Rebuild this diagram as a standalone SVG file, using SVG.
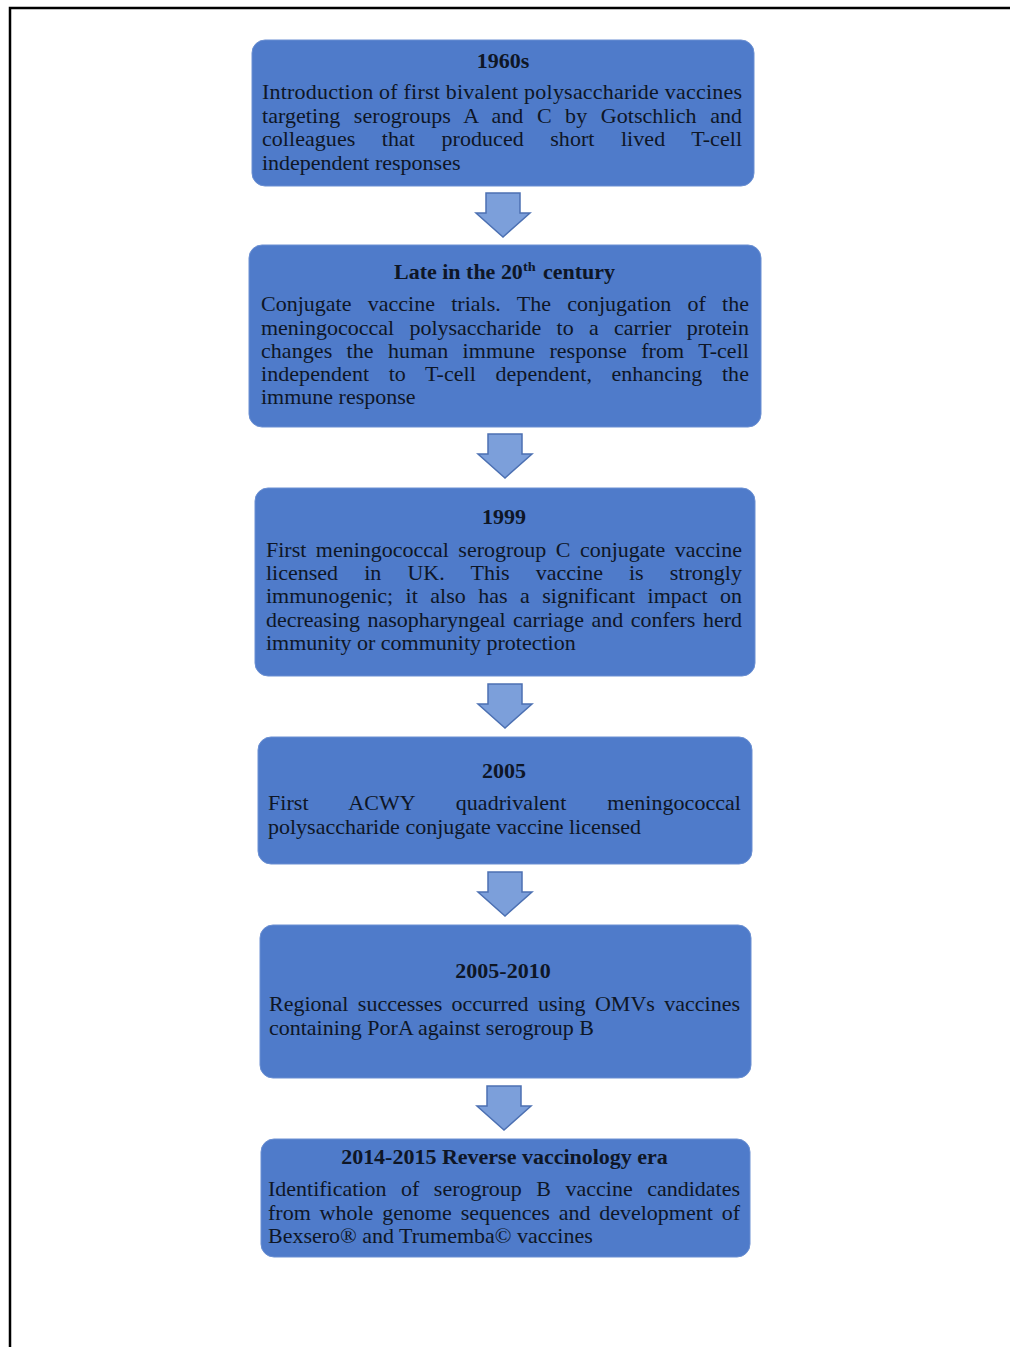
<svg xmlns="http://www.w3.org/2000/svg" xmlns:xlink="http://www.w3.org/1999/xlink" width="1010" height="1347" viewBox="0 0 1010 1347">
<style>
.box{fill:#4F7BCA;stroke:#6A8FD2;stroke-width:1}
.arrow{fill:#7C9FDA;stroke:#4C70B2;stroke-width:1.5;stroke-linejoin:miter}
.t{font-family:"Liberation Serif","Times New Roman",serif;font-size:20px;fill:#0E1626}
.h{font-family:"Liberation Serif","Times New Roman",serif;font-size:20px;font-weight:bold;fill:#0E1626}
.c{text-anchor:middle}
.sup{font-family:"Liberation Serif","Times New Roman",serif;font-size:13px;font-weight:bold;fill:#0E1626}
</style>
<defs>
<path id="arr" d="M-17,0 H17 V20 H27 L0,44 L-27,20 H-17 Z"/>
</defs>
<rect width="1010" height="1347" fill="#ffffff"/>
<path d="M10,1347 V8 H1010" fill="none" stroke="#000" stroke-width="2.5"/>

<g id="connectors">
<use xlink:href="#arr" href="#arr" class="arrow" transform="translate(503,193)"/>
<use xlink:href="#arr" href="#arr" class="arrow" transform="translate(505,434)"/>
<use xlink:href="#arr" href="#arr" class="arrow" transform="translate(505,684)"/>
<use xlink:href="#arr" href="#arr" class="arrow" transform="translate(505,872)"/>
<use xlink:href="#arr" href="#arr" class="arrow" transform="translate(504,1086)"/>
</g>

<g id="node-1960s">
<rect class="box" x="252" y="40" width="502" height="146" rx="13"/>
<g transform="scale(1.1,1)">
<text class="h c" x="457.27" y="68">1960s</text>
<text class="t" x="238.18" y="99" textLength="436.4" lengthAdjust="spacing">Introduction of first bivalent polysaccharide vaccines</text>
<text class="t" x="238.18" y="123" word-spacing="7.2" textLength="436.4" lengthAdjust="spacing">targeting serogroups A and C by Gotschlich and</text>
<text class="t" x="238.18" y="146" word-spacing="19" textLength="436.4" lengthAdjust="spacing">colleagues that produced short lived T-cell</text>
<text class="t" x="238.18" y="170">independent responses</text>
</g>
</g>

<g id="node-late20th">
<rect class="box" x="249" y="245" width="512" height="182" rx="13"/>
<g transform="scale(1.1,1)">
<text class="h" x="358.18" y="279">Late in the 20</text>
<text class="sup" x="475.45" y="271">th</text>
<text class="h" x="493.64" y="279">century</text>
<text class="t" x="237.27" y="311" word-spacing="9.8" textLength="443.6" lengthAdjust="spacing">Conjugate vaccine trials. The conjugation of the</text>
<text class="t" x="237.27" y="335" word-spacing="8.9" textLength="443.6" lengthAdjust="spacing">meningococcal polysaccharide to a carrier protein</text>
<text class="t" x="237.27" y="358" word-spacing="8" textLength="443.6" lengthAdjust="spacing">changes the human immune response from T-cell</text>
<text class="t" x="237.27" y="381" word-spacing="12.7" textLength="443.6" lengthAdjust="spacing">independent to T-cell dependent, enhancing the</text>
<text class="t" x="237.27" y="404">immune response</text>
</g>
</g>

<g id="node-1999">
<rect class="box" x="255" y="488" width="500" height="188" rx="13"/>
<g transform="scale(1.1,1)">
<text class="h c" x="458.18" y="524">1999</text>
<text class="t" x="241.82" y="557" word-spacing="3.6" textLength="432.7" lengthAdjust="spacing">First meningococcal serogroup C conjugate vaccine</text>
<text class="t" x="241.82" y="580" word-spacing="18.7" textLength="432.7" lengthAdjust="spacing">licensed in UK. This vaccine is strongly</text>
<text class="t" x="241.82" y="603" word-spacing="6.3" textLength="432.7" lengthAdjust="spacing">immunogenic; it also has a significant impact on</text>
<text class="t" x="241.82" y="627" word-spacing="1.8" textLength="432.7" lengthAdjust="spacing">decreasing nasopharyngeal carriage and confers herd</text>
<text class="t" x="241.82" y="650">immunity or community protection</text>
</g>
</g>

<g id="node-2005">
<rect class="box" x="258" y="737" width="494" height="127" rx="13"/>
<g transform="scale(1.1,1)">
<text class="h c" x="458.18" y="778">2005</text>
<text class="t" x="243.64" y="810" word-spacing="32.1" textLength="430" lengthAdjust="spacing">First ACWY quadrivalent meningococcal</text>
<text class="t" x="243.64" y="834">polysaccharide conjugate vaccine licensed</text>
</g>
</g>

<g id="node-2005-2010">
<rect class="box" x="260" y="925" width="491" height="153" rx="13"/>
<g transform="scale(1.1,1)">
<text class="h c" x="457.27" y="978">2005-2010</text>
<text class="t" x="244.55" y="1011" word-spacing="3.5" textLength="428.2" lengthAdjust="spacing">Regional successes occurred using OMVs vaccines</text>
<text class="t" x="244.55" y="1035">containing PorA against serogroup B</text>
</g>
</g>

<g id="node-2014-2015">
<rect class="box" x="261" y="1139" width="489" height="118" rx="13"/>
<g transform="scale(1.1,1)">
<text class="h c" x="458.64" y="1164">2014-2015 Reverse vaccinology era</text>
<text class="t" x="243.64" y="1196" word-spacing="8.2" textLength="429.1" lengthAdjust="spacing">Identification of serogroup B vaccine candidates</text>
<text class="t" x="243.64" y="1220" word-spacing="3" textLength="429.1" lengthAdjust="spacing">from whole genome sequences and development of</text>
<text class="t" x="243.64" y="1243">Bexsero® and Trumemba© vaccines</text>
</g>
</g>
</svg>
